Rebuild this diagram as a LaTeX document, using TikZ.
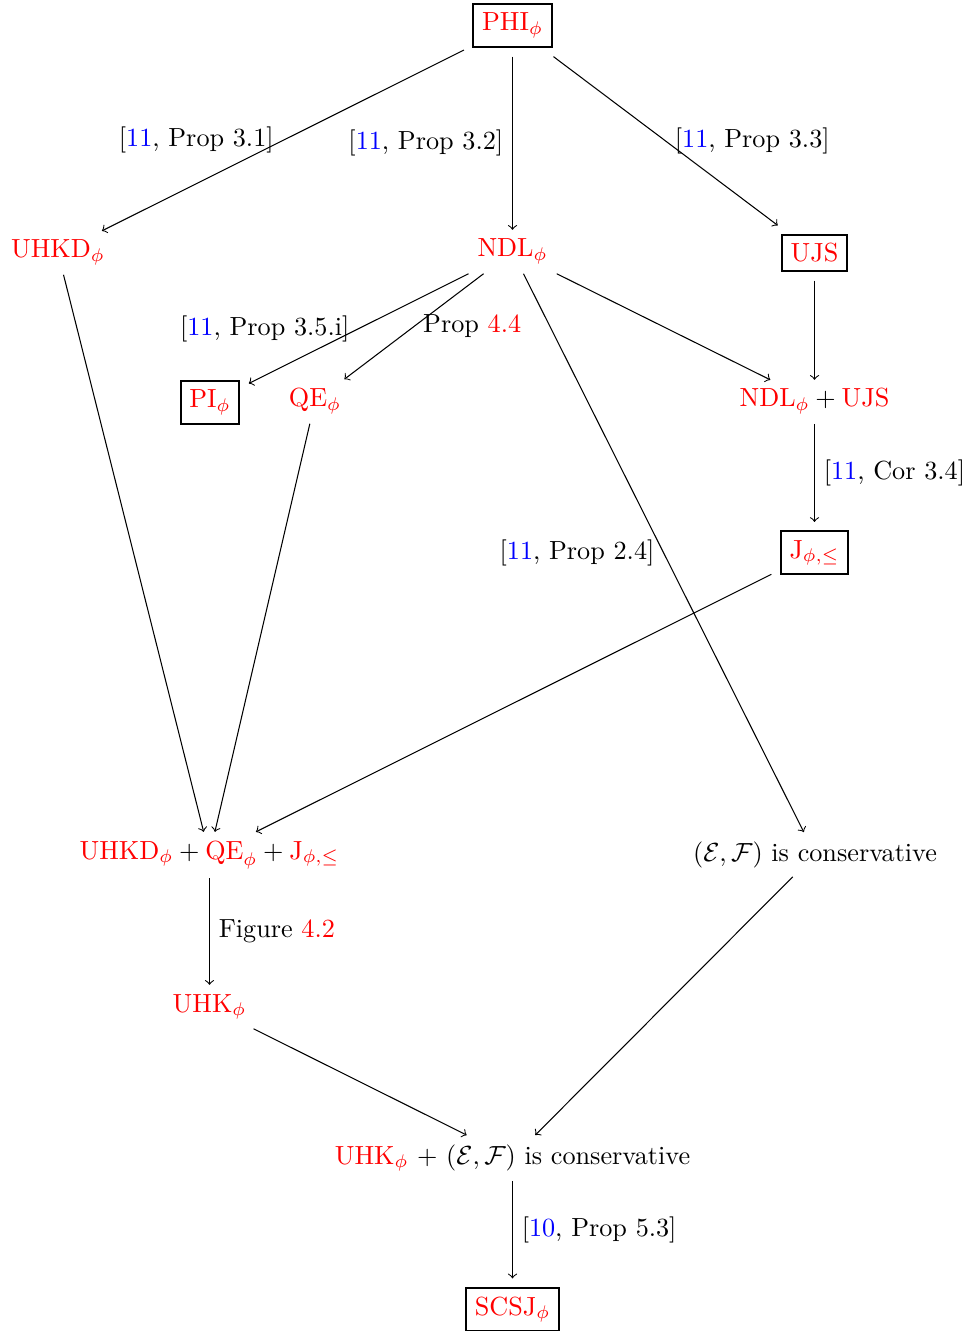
\documentclass[tikz,border=0pt]{standalone}
\usepackage{amsmath,amssymb}
\newcommand\rd[1]{\textcolor{red}{#1}}
\newcommand\bl[1]{\textcolor{blue}{#1}}
\begin{document}
\begin{tikzpicture}[x=0.3817pt,y=-0.3817pt,
  lab/.style={anchor=base},
  boxed/.style={anchor=base, draw=black, line width=0.8pt, outer sep=3.6pt},
  arr/.style={->, line width=0.4pt}]
\useasboundingbox (0,0) rectangle (972,1331);
% nodes
\node[boxed] (phi) at (512.5,31) {\rd{PHI$_\phi$}};
\node[lab] (uhkd) at (58,258) {\rd{UHKD$_\phi$}};
\node[lab] (ndl) at (512.5,257) {\rd{NDL$_\phi$}};
\node[boxed] (ujs) at (814.5,262) {\rd{UJS}};
\node[boxed] (pi) at (210,408) {\rd{PI$_\phi$}};
\node[lab] (qe) at (315,407) {\rd{QE$_\phi$}};
\node[lab] (ndlujs) at (814.5,407) {$\rd{\mathrm{NDL}_\phi}+\rd{\mathrm{UJS}}$};
\node[boxed] (j) at (814.5,558) {\rd{J$_{\phi,\le}$}};
\node[lab] (big) at (209.5,859) {$\rd{\mathrm{UHKD}_\phi}+\rd{\mathrm{QE}_\phi}+\rd{\mathrm{J}_{\phi,\le}}$};
\node[lab] (cons) at (815,861) {$(\mathcal{E},\mathcal{F})$ is conservative};
\node[lab] (uhk) at (209.5,1012) {\rd{UHK$_\phi$}};
\node[lab] (uhkcons) at (512.5,1164) {\rd{UHK$_\phi$} $+$ $(\mathcal{E},\mathcal{F})$ is conservative};
\node[boxed] (scsj) at (512.5,1315) {\rd{SCSJ$_\phi$}};
% edges
\draw[arr] (phi) -- node[left]{[\bl{11}, Prop 3.1]} (uhkd);
\draw[arr] (phi) -- node[left]{[\bl{11}, Prop 3.2]} (ndl);
\draw[arr] (phi) -- node[right]{[\bl{11}, Prop 3.3]} (ujs);
\draw[arr] (uhkd) -- (big);
\draw[arr] (ndl) -- node[left]{[\bl{11}, Prop 3.5.i]} (pi);
\draw[arr] (ndl) -- node[right]{Prop \rd{4.4}} (qe);
\draw[arr] (ndl) -- (ndlujs);
\draw[arr] (ndl) -- node[left]{[\bl{11}, Prop 2.4]} (cons);
\draw[arr] (ujs) -- (ndlujs);
\draw[arr] (ndlujs) -- node[right]{[\bl{11}, Cor 3.4]} (j);
\draw[arr] (qe) -- (big);
\draw[arr] (j) -- (big);
\draw[arr] (big) -- node[right]{Figure \rd{4.2}} (uhk);
\draw[arr] (uhk) -- (uhkcons);
\draw[arr] (cons) -- (uhkcons);
\draw[arr] (uhkcons) -- node[right]{[\bl{10}, Prop 5.3]} (scsj);
\end{tikzpicture}
\end{document}
